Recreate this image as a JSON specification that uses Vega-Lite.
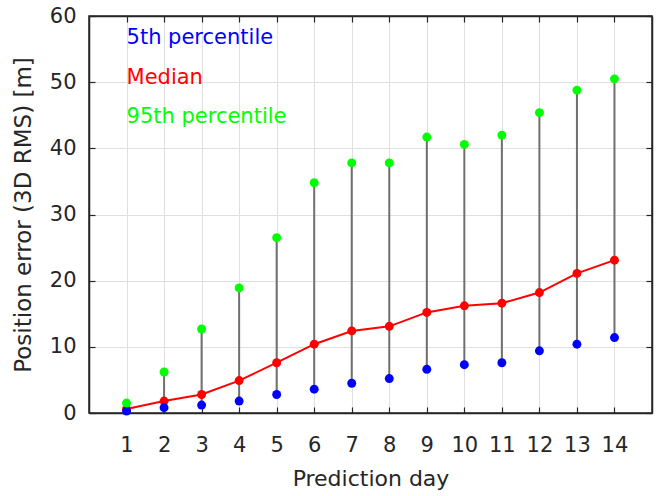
{
  "$schema": "https://vega.github.io/schema/vega-lite/v6.json",
  "width": 563,
  "height": 397,
  "autosize": "none",
  "padding": {"left": 89, "top": 16, "right": 6, "bottom": 83},
  "background": "white",
  "config": {
    "view": {"stroke": "#262626", "strokeWidth": 1.5},
    "font": "DejaVu Sans",
    "axis": {
      "domainColor": "#262626",
      "domainWidth": 1.5,
      "tickColor": "#262626",
      "tickWidth": 1.2,
      "tickSize": -6,
      "labelFontSize": 21,
      "labelColor": "#262626",
      "titleFontSize": 22,
      "titleFontWeight": "normal",
      "titleColor": "#262626",
      "gridColor": "#dfdfdf",
      "gridWidth": 1
    }
  },
  "data": {
    "values": [
      {"day": 1, "p5": 0.3, "median": 0.6, "p95": 1.5},
      {"day": 2, "p5": 0.8, "median": 1.8, "p95": 6.2},
      {"day": 3, "p5": 1.2, "median": 2.8, "p95": 12.7},
      {"day": 4, "p5": 1.8, "median": 4.9, "p95": 18.9},
      {"day": 5, "p5": 2.8, "median": 7.6, "p95": 26.5},
      {"day": 6, "p5": 3.6, "median": 10.4, "p95": 34.8},
      {"day": 7, "p5": 4.5, "median": 12.4, "p95": 37.8},
      {"day": 8, "p5": 5.2, "median": 13.1, "p95": 37.8},
      {"day": 9, "p5": 6.6, "median": 15.2, "p95": 41.7},
      {"day": 10, "p5": 7.3, "median": 16.2, "p95": 40.6},
      {"day": 11, "p5": 7.6, "median": 16.6, "p95": 42.0},
      {"day": 12, "p5": 9.4, "median": 18.2, "p95": 45.4},
      {"day": 13, "p5": 10.4, "median": 21.1, "p95": 48.8},
      {"day": 14, "p5": 11.4, "median": 23.1, "p95": 50.5}
    ]
  },
  "resolve": {"axis": {"x": "independent", "y": "independent"}},
  "layer": [
    {
      "mark": {"type": "rule", "color": "#707070", "strokeWidth": 2},
      "encoding": {
        "x": {
          "field": "day",
          "type": "quantitative",
          "scale": {"domain": [0, 15], "nice": false, "zero": false},
          "axis": {
            "orient": "bottom",
            "values": [1, 2, 3, 4, 5, 6, 7, 8, 9, 10, 11, 12, 13, 14],
            "labelPadding": 27,
            "title": "Prediction day",
            "titlePadding": 13,
            "grid": true
          }
        },
        "y": {
          "field": "p5",
          "type": "quantitative",
          "scale": {"domain": [0, 60], "nice": false},
          "axis": {
            "orient": "left",
            "values": [0, 10, 20, 30, 40, 50, 60],
            "labelPadding": 19,
            "title": "Position error (3D RMS) [m]",
            "titleFontSize": 23,
            "titlePadding": 14,
            "grid": true
          }
        },
        "y2": {"field": "p95"}
      }
    },
    {
      "mark": {"type": "rule", "opacity": 0},
      "encoding": {
        "x": {
          "field": "day",
          "type": "quantitative",
          "axis": {
            "orient": "top",
            "values": [1, 2, 3, 4, 5, 6, 7, 8, 9, 10, 11, 12, 13, 14],
            "labels": false,
            "title": null,
            "grid": false
          }
        },
        "y": {
          "field": "p5",
          "type": "quantitative",
          "axis": {
            "orient": "right",
            "values": [0, 10, 20, 30, 40, 50, 60],
            "labels": false,
            "title": null,
            "grid": false
          }
        }
      }
    },
    {
      "mark": {"type": "line", "color": "#ff0000", "strokeWidth": 2},
      "encoding": {
        "x": {"field": "day", "type": "quantitative", "axis": null},
        "y": {"field": "median", "type": "quantitative", "axis": null}
      }
    },
    {
      "mark": {"type": "point", "filled": true, "opacity": 1, "size": 80, "color": "#ff0000"},
      "encoding": {
        "x": {"field": "day", "type": "quantitative", "axis": null},
        "y": {"field": "median", "type": "quantitative", "axis": null}
      }
    },
    {
      "mark": {"type": "point", "filled": true, "opacity": 1, "size": 80, "color": "#0000ff"},
      "encoding": {
        "x": {"field": "day", "type": "quantitative", "axis": null},
        "y": {"field": "p5", "type": "quantitative", "axis": null}
      }
    },
    {
      "mark": {"type": "point", "filled": true, "opacity": 1, "size": 80, "color": "#00ff00"},
      "encoding": {
        "x": {"field": "day", "type": "quantitative", "axis": null},
        "y": {"field": "p95", "type": "quantitative", "axis": null}
      }
    },
    {
      "data": {"values": [{"label": "5th percentile"}]},
      "mark": {"type": "text", "align": "left", "baseline": "middle", "fontSize": 21, "color": "#0000ff"},
      "encoding": {
        "x": {"datum": 1, "type": "quantitative", "axis": null},
        "y": {"datum": 56.7, "type": "quantitative", "axis": null},
        "text": {"field": "label"}
      }
    },
    {
      "data": {"values": [{"label": "Median"}]},
      "mark": {"type": "text", "align": "left", "baseline": "middle", "fontSize": 21, "color": "#ff0000"},
      "encoding": {
        "x": {"datum": 1, "type": "quantitative", "axis": null},
        "y": {"datum": 50.7, "type": "quantitative", "axis": null},
        "text": {"field": "label"}
      }
    },
    {
      "data": {"values": [{"label": "95th percentile"}]},
      "mark": {"type": "text", "align": "left", "baseline": "middle", "fontSize": 21, "color": "#00ff00"},
      "encoding": {
        "x": {"datum": 1, "type": "quantitative", "axis": null},
        "y": {"datum": 44.7, "type": "quantitative", "axis": null},
        "text": {"field": "label"}
      }
    }
  ]
}
